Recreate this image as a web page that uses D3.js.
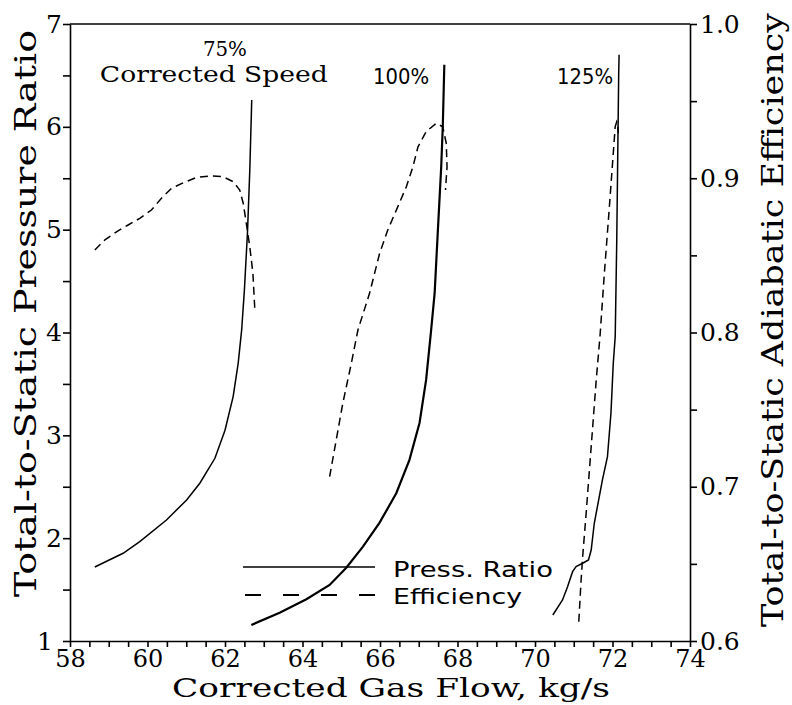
<!DOCTYPE html>
<html>
<head>
<meta charset="utf-8">
<script src="https://cdn.jsdelivr.net/npm/d3@7"></script>
<style>
  body { margin: 0; background: #fff; }
  svg text { fill: #000; }
</style>
</head>
<body>
<div id="chart"></div>
<script>
// corrected gas flow (kg/s) and total-to-static pressure ratio / efficiency
var pr75flow = [58.64, 59.37, 59.80, 60.49, 61.01, 61.35, 61.74, 62.00, 62.21, 62.34, 62.43, 62.50, 62.58, 62.64, 62.69];
var pr75val  = [1.72, 1.853, 1.966, 2.177, 2.372, 2.534, 2.777, 3.05, 3.377, 3.70, 4.025, 4.41, 4.97, 5.58, 6.26];

var ef75flow = [58.64, 58.90, 59.20, 59.50, 59.80, 60.10, 60.36, 60.62, 60.92, 61.27, 61.61, 61.95, 62.21, 62.38, 62.47, 62.55, 62.64, 62.72, 62.77];
var ef75val  = [0.8535, 0.860, 0.8653, 0.8697, 0.874, 0.8794, 0.887, 0.8935, 0.897, 0.9006, 0.9015, 0.901, 0.8978, 0.8924, 0.8838, 0.8708, 0.8556, 0.8384, 0.8146];

var pr100flow = [62.68, 63.41, 64.10, 64.70, 65.13, 65.56, 65.99, 66.42, 66.76, 67.02, 67.19, 67.32, 67.41, 67.49, 67.58, 67.62, 67.66];
var pr100val  = [1.156, 1.275, 1.406, 1.545, 1.713, 1.917, 2.151, 2.437, 2.761, 3.12, 3.539, 4.025, 4.382, 4.966, 5.614, 6.003, 6.603];

var ef100flow = [64.70, 64.87, 65.04, 65.26, 65.43, 65.73, 65.99, 66.20, 66.46, 66.68, 66.85, 66.98, 67.19, 67.45, 67.62, 67.71, 67.73, 67.69];
var ef100val  = [0.7065, 0.7303, 0.7541, 0.780, 0.8016, 0.8254, 0.8513, 0.8664, 0.8816, 0.8945, 0.9075, 0.9204, 0.9302, 0.9356, 0.9334, 0.9227, 0.9075, 0.8924];

var pr125flow = [70.46, 70.71, 70.84, 70.97, 71.06, 71.23, 71.38, 71.45, 71.53, 71.74, 71.87, 71.96, 72.02, 72.07, 72.11, 72.14, 72.16, 72.17];
var pr125val  = [1.253, 1.399, 1.528, 1.674, 1.723, 1.756, 1.788, 1.885, 2.145, 2.566, 2.793, 3.215, 3.701, 3.96, 4.90, 5.874, 6.522, 6.70];

var ef125flow = [71.13, 71.19, 71.23, 71.32, 71.45, 71.58, 71.68, 71.79, 71.92, 72.02, 72.07, 72.11, 72.13, 72.15];
var ef125val  = [0.6125, 0.6395, 0.6547, 0.6828, 0.726, 0.7692, 0.7984, 0.8384, 0.8816, 0.9162, 0.9334, 0.9367, 0.9356, 0.9291];

var xTicks = d3.range(58, 74.01, 0.5);
var xLabels = [58, 60, 62, 64, 66, 68, 70, 72, 74];
var yTicks = d3.range(1, 7.01, 0.5);
var yLabels = [1, 2, 3, 4, 5, 6, 7];
var y2Ticks = d3.range(0.6, 1.001, 0.05);
var y2Labels = [0.6, 0.7, 0.8, 0.9, 1.0];

var speedLabels = [
  {text: "100%", flow: 65.82, pr: 6.42},
  {text: "125%", flow: 70.57, pr: 6.42}
];

var margin = {top: 24, right: 102, bottom: 64, left: 70},
    width = 792 - margin.left - margin.right,
    height = 705 - margin.top - margin.bottom;

var serif = "'DejaVu Serif', serif",
    sans = "'DejaVu Sans', sans-serif";

var svg = d3.select("#chart")
  .append("svg")
    .attr("width", 792)
    .attr("height", 705)
  .append("g")
    .attr("transform", "translate(" + margin.left + "," + margin.top + ")");

var x = d3.scaleLinear().domain([58, 74]).range([0, width]);
var y = d3.scaleLinear().domain([1, 7]).range([height, 0]);
var y2 = d3.scaleLinear().domain([0.6, 1.0]).range([height, 0]);

// axes
var xAxis = svg.append("g")
  .attr("transform", "translate(0," + height + ")")
  .call(d3.axisBottom(x).tickValues(xTicks).tickSize(6).tickSizeOuter(0)
    .tickFormat(function(d) { return xLabels.indexOf(d) >= 0 ? d : ""; }));

var yAxis = svg.append("g")
  .call(d3.axisLeft(y).tickValues(yTicks).tickSize(7).tickSizeOuter(0)
    .tickFormat(function(d) { return yLabels.indexOf(d) >= 0 ? d : ""; }));

var y2Axis = svg.append("g")
  .attr("transform", "translate(" + width + ",0)")
  .call(d3.axisRight(y2).tickValues(y2Ticks).tickSize(7).tickSizeOuter(0)
    .tickFormat(function(d) {
      var r = Math.round(d * 100) / 100;
      return y2Labels.indexOf(r) >= 0 ? d3.format(".1f")(r) : "";
    }));

[xAxis, yAxis, y2Axis].forEach(function(a) {
  a.selectAll("path, line").attr("stroke", "#000").attr("stroke-width", 1.6);
  a.selectAll("text").attr("font-family", serif).attr("font-size", "25px").attr("fill", "#000");
});
xAxis.selectAll("text").attr("dy", null).attr("y", 26).attr("font-size", "24px");
yAxis.selectAll("text").attr("x", function(d) { return d === 1 ? -17 : -8; });
y2Axis.selectAll("text").attr("x", 10);

svg.append("line")
  .attr("x1", 0).attr("x2", width).attr("y1", 0).attr("y2", 0)
  .attr("stroke", "#000").attr("stroke-width", 1.6);

// curves
var zip = function(a, b) { return a.map(function(v, i) { return [v, b[i]]; }); };
var linePr = d3.line().x(function(d) { return x(d[0]); }).y(function(d) { return y(d[1]); });
var lineEf = d3.line().x(function(d) { return x(d[0]); }).y(function(d) { return y2(d[1]); });

var curves = [
  {d: linePr(zip(pr75flow, pr75val)), w: 1.5, dash: null},
  {d: linePr(zip(pr100flow, pr100val)), w: 2.2, dash: null},
  {d: linePr(zip(pr125flow, pr125val)), w: 1.5, dash: null},
  {d: lineEf(zip(ef75flow, ef75val)), w: 1.5, dash: "8,5"},
  {d: lineEf(zip(ef100flow, ef100val)), w: 1.5, dash: "8,5"},
  {d: lineEf(zip(ef125flow, ef125val)), w: 1.5, dash: "8,5"}
];

svg.selectAll("path.curve")
  .data(curves).enter()
  .append("path")
    .attr("class", "curve")
    .attr("d", function(d) { return d.d; })
    .attr("fill", "none")
    .attr("stroke", "#000")
    .attr("stroke-width", function(d) { return d.w; })
    .attr("stroke-dasharray", function(d) { return d.dash; });

// speed labels
svg.append("text")
  .attr("x", x(61.43)).attr("y", y(6.69))
  .attr("font-family", serif).attr("font-size", "20px")
  .attr("textLength", 44).attr("lengthAdjust", "spacingAndGlyphs")
  .text("75%");
svg.append("text")
  .attr("x", x(58.77)).attr("y", y(6.44))
  .attr("font-family", serif).attr("font-size", "22px")
  .attr("textLength", 228).attr("lengthAdjust", "spacingAndGlyphs")
  .text("Corrected Speed");

svg.selectAll("text.speed")
  .data(speedLabels).enter()
  .append("text")
    .attr("class", "speed")
    .attr("x", function(d) { return x(d.flow); })
    .attr("y", function(d) { return y(d.pr); })
    .attr("font-family", sans).attr("font-size", "21px")
    .attr("textLength", 56).attr("lengthAdjust", "spacingAndGlyphs")
    .text(function(d) { return d.text; });

// legend
var legend = svg.append("g").attr("transform", "translate(173,543)");
legend.append("line").attr("x1", 0).attr("x2", 132).attr("y1", 0).attr("y2", 0)
  .attr("stroke", "#000").attr("stroke-width", 1.5);
legend.append("line").attr("x1", 2).attr("x2", 132).attr("y1", 28).attr("y2", 28)
  .attr("stroke", "#000").attr("stroke-width", 2.2).attr("stroke-dasharray", "16,22");
legend.append("text").attr("x", 150).attr("y", 10)
  .attr("font-family", sans).attr("font-size", "22px")
  .attr("textLength", 160).attr("lengthAdjust", "spacingAndGlyphs")
  .text("Press. Ratio");
legend.append("text").attr("x", 150).attr("y", 37)
  .attr("font-family", sans).attr("font-size", "22px")
  .attr("textLength", 129).attr("lengthAdjust", "spacingAndGlyphs")
  .text("Efficiency");

// axis titles
svg.append("text")
  .attr("x", 102).attr("y", height + 56)
  .attr("font-family", serif).attr("font-size", "26px")
  .attr("textLength", 438).attr("lengthAdjust", "spacingAndGlyphs")
  .text("Corrected Gas Flow, kg/s");

svg.append("text")
  .attr("transform", "translate(" + (36 - margin.left) + "," + (597 - margin.top) + ") rotate(-90)")
  .attr("font-family", serif).attr("font-size", "29px")
  .attr("textLength", 567).attr("lengthAdjust", "spacingAndGlyphs")
  .text("Total-to-Static Pressure Ratio");

svg.append("text")
  .attr("transform", "translate(" + (783 - margin.left) + "," + (627 - margin.top) + ") rotate(-90)")
  .attr("font-family", serif).attr("font-size", "29px")
  .attr("textLength", 614).attr("lengthAdjust", "spacingAndGlyphs")
  .text("Total-to-Static Adiabatic Efficiency");
</script>
</body>
</html>
